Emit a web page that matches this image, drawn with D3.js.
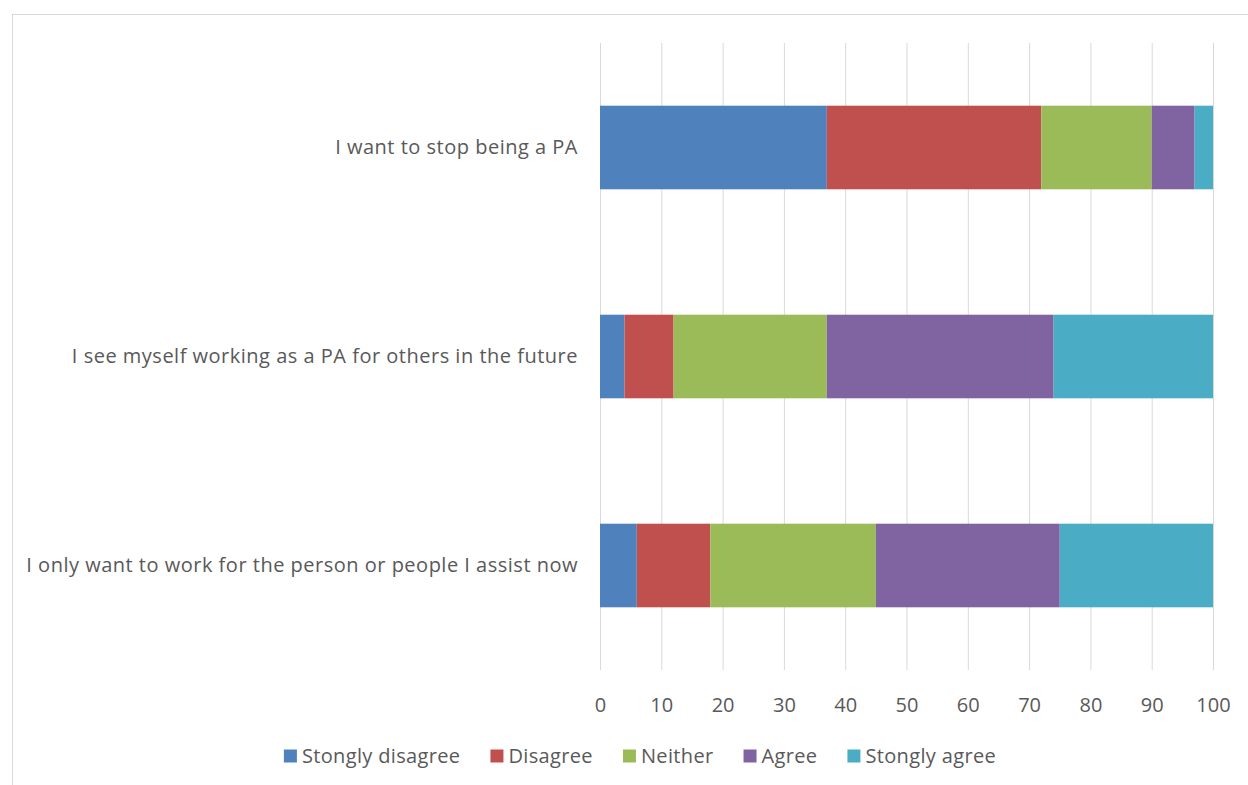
<!DOCTYPE html>
<html><head><meta charset="utf-8">
<script src="https://cdn.jsdelivr.net/npm/d3@7"></script>
<style>body{margin:0;background:#fff}svg{display:block}text{font-family:"Open Sans",sans-serif;fill:#595959}</style>
</head><body>
<svg id="c" width="1248" height="785"></svg>
<script>
const categories = ["I want to stop being a PA","I see myself working as a PA for others in the future","I only want to work for the person or people I assist now"];
const seriesNames = ["Stongly disagree","Disagree","Neither","Agree","Stongly agree"];
const stronglyDisagree = [37,4,6];
const disagree = [35,8,12];
const neither = [18,25,27];
const agree = [7,37,30];
const stronglyAgree = [3,26,25];
const tickValues = [0,10,20,30,40,50,60,70,80,90,100];
const colors = ["#4F81BD","#C0504D","#9BBB59","#8064A2","#4BACC6"];

(function(){
const FONT = "'Open Sans',sans-serif";
const svg = d3.select("#c");
svg.append("rect").attr("x",12.5).attr("y",14.5).attr("width",1300).attr("height",900)
  .attr("fill","#fff").attr("stroke","#d9d9d9").attr("stroke-width",1);

const pLeft=600,pRight=1213,pTop=43,pBottom=670;
const x=d3.scaleLinear().domain([0,100]).range([pLeft,pRight]);
const y=d3.scaleBand().domain(categories).range([pTop,pBottom]).paddingInner(0.6).paddingOuter(0.3);

svg.append("g").selectAll("line").data(tickValues).join("line")
  .attr("x1",d=>x(d)+0.5).attr("x2",d=>x(d)+0.5).attr("y1",pTop).attr("y2",pBottom)
  .attr("stroke","#d9d9d9").attr("stroke-width",1);

const table = categories.map((c,i)=>({cat:c,"Stongly disagree":stronglyDisagree[i],"Disagree":disagree[i],"Neither":neither[i],"Agree":agree[i],"Stongly agree":stronglyAgree[i]}));
const stacked = d3.stack().keys(seriesNames)(table);
svg.append("g").selectAll("g").data(stacked).join("g").attr("fill",(d,i)=>colors[i])
  .selectAll("rect").data(d=>d).join("rect")
  .attr("x",d=>x(d[0])).attr("width",d=>x(d[1])-x(d[0]))
  .attr("y",d=>y(d.data.cat)).attr("height",y.bandwidth());

const xa = d3.axisBottom(x).tickValues(tickValues).tickSize(0).tickPadding(0);
const gx = svg.append("g").attr("transform",`translate(0,${pBottom})`).call(xa);
gx.select(".domain").remove();
gx.selectAll("text").attr("dy",0).attr("y",42).style("font-size","20px").style("fill","#595959").style("font-family",FONT);

const ya = d3.axisLeft(y).tickSize(0).tickPadding(22);
const gy = svg.append("g").attr("transform",`translate(${pLeft},0)`).call(ya);
gy.select(".domain").remove();
gy.selectAll("text").style("font-size","20px").style("letter-spacing","0.5px").style("fill","#595959").style("font-family",FONT);

const lg = svg.append("g");
const items = lg.selectAll("g").data(seriesNames).join("g");
items.append("rect").attr("width",13).attr("height",13).attr("y",-6.5).attr("fill",(d,i)=>colors[i]);
items.append("text").attr("x",18).attr("dy","0.35em").style("font-size","20px").style("letter-spacing","0.35px").style("font-family",FONT).text(d=>d);
let pos=0; const offs=[];
items.each(function(){const w=d3.select(this).select("text").node().getComputedTextLength();offs.push(pos);pos+=18+w+30;});
const total=pos-30; const start=640-total/2;
items.attr("transform",(d,i)=>`translate(${start+offs[i]},756)`);
})();
</script>
</body></html>
